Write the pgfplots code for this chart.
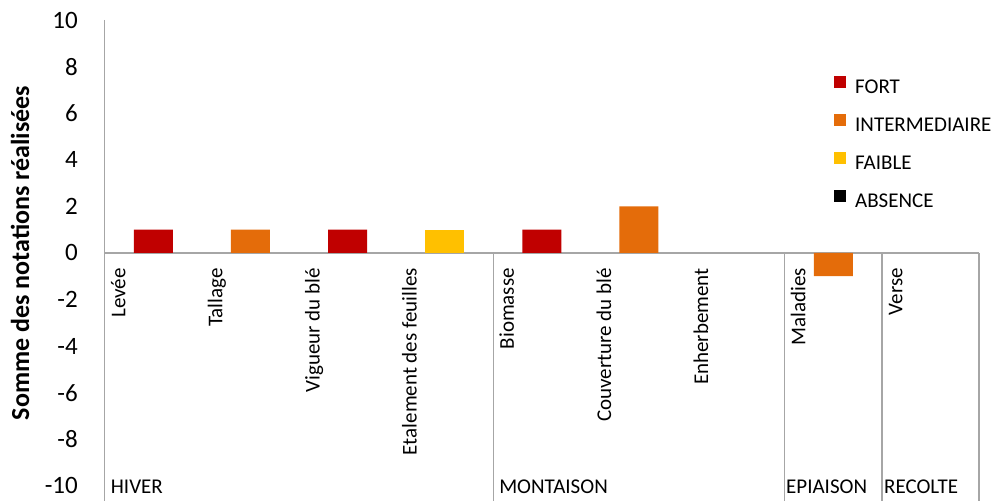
\documentclass[border=0pt]{standalone}
\usepackage{fontspec}
\setmainfont{Carlito}
\usepackage{pgfplots}
\pgfplotsset{compat=1.18}
\definecolor{cfort}{HTML}{C00000}
\definecolor{cinter}{HTML}{E46C0A}
\definecolor{cfaible}{HTML}{FFC000}
\definecolor{caxis}{HTML}{A6A6A6}
\pgfplotsset{sqleg/.style={legend image code/.code={\fill[##1] (0pt,0pt) rectangle (12pt,12pt);}}}
\begin{document}
\begin{tikzpicture}[x=1pt,y=1pt]
\path[use as bounding box] (0,0) rectangle (996,501);
\begin{axis}[
  at={(104.7pt,0pt)}, anchor=south west,
  scale only axis, width=874.3pt, height=481pt,
  xmin=0, xmax=9, ymin=-10.65, ymax=10,
  clip=false,
  ybar, bar width=39pt,
  axis line style={draw=none},
  major tick length=0pt,
  ytick={-10,-8,...,10},
  /pgf/number format/assume math mode=true,
  yticklabel style={font=\fontsize{25}{30}\selectfont, inner sep=0pt, xshift=-26.7pt},
  xtick={0,...,8},
  xticklabels={Levée, Tallage, Vigueur du blé, Etalement des feuilles, Biomasse, Couverture du blé, Enherbement, Maladies, Verse},
  xticklabel style={font=\fontsize{21}{25}\selectfont, inner sep=0pt, xshift=20.6pt, yshift=233pt, rotate=90, anchor=base east},
  ylabel={Somme des notations réalisées},
  every axis y label/.style={at={(axis description cs:-0.0969,0.5156)}, rotate=90, anchor=center, font=\bfseries\fontsize{26}{30}\selectfont},
  legend style={at={(axis cs:7.507,7.6)}, anchor=north west, draw=none, fill=none, inner sep=0pt,
    font=\fontsize{21}{25}\selectfont, row sep=17pt,
    nodes={inner sep=0pt, text height=14pt, text depth=4pt},
    /tikz/every odd column/.append style={column sep=9pt}},
  legend cell align=left,
]
\draw[caxis, line width=1.5pt] (axis cs:0,10) -- (axis cs:0,-10.65);
\draw[caxis, line width=1.5pt] (axis cs:0,0) -- (axis cs:9,0);
\draw[caxis, line width=1.5pt] (axis cs:4,0) -- (axis cs:4,-10.65);
\draw[caxis, line width=1.5pt] (axis cs:7,0) -- (axis cs:7,-10.65);
\draw[caxis, line width=1.5pt] (axis cs:8,0) -- (axis cs:8,-10.65);
\draw[caxis, line width=1.5pt] (axis cs:9,0) -- (axis cs:9,-10.65);
\addplot[fill=cfort, draw=none, bar shift=0pt, sqleg] coordinates {(0.5,1) (2.5,1) (4.5,1)};
\addlegendentry{FORT}
\addplot[fill=cinter, draw=none, bar shift=0pt, sqleg] coordinates {(1.5,1) (5.5,2) (7.5,-1)};
\addlegendentry{INTERMEDIAIRE}
\addplot[fill=cfaible, draw=none, bar shift=0pt, sqleg] coordinates {(3.5,1)};
\addlegendentry{FAIBLE}
\addlegendimage{fill=black, draw=none, sqleg}
\addlegendentry{ABSENCE}
\node[anchor=west, inner sep=0pt, font=\fontsize{21}{25}\selectfont] at (axis cs:0.0618,-10.04) {HIVER};
\node[anchor=west, inner sep=0pt, font=\fontsize{21}{25}\selectfont] at (axis cs:4.0597,-10.04) {MONTAISON};
\node[anchor=west, inner sep=0pt, font=\fontsize{21}{25}\selectfont] at (axis cs:7.013,-10.04) {EPIAISON};
\node[anchor=west, inner sep=0pt, font=\fontsize{21}{25}\selectfont] at (axis cs:8.021,-10.04) {RECOLTE};
\end{axis}
\end{tikzpicture}
\end{document}
